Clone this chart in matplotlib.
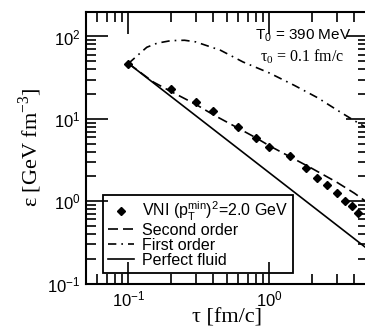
"""Energy density vs proper time: VNI against hydrodynamics."""

import matplotlib

matplotlib.use("Agg")
import matplotlib.pyplot as plt

# VNI points, (pT^min)^2 = 2.0 GeV
vni_tau = [0.1, 0.2, 0.3, 0.4, 0.6, 0.8, 1.0, 1.4, 1.82, 2.19, 2.58, 3.0, 3.44, 3.84, 4.28]
vni_eps = [46.7, 22.8, 16.0, 12.3, 8.0, 5.85, 4.55, 3.5, 2.5, 1.91, 1.59, 1.26, 1.0, 0.87, 0.71]

# second order viscous hydro (dashed)
second_tau = [0.1, 0.15, 0.2, 0.3, 0.4, 0.6, 0.8, 1.0, 1.5, 2.0, 3.0, 4.0, 5.0]
second_eps = [47.0, 28.0, 21.5, 15.0, 11.2, 7.7, 5.9, 4.7, 3.25, 2.5, 1.7, 1.25, 0.95]

# first order viscous hydro (dash-dot)
first_tau = [0.1, 0.12, 0.135, 0.16, 0.2, 0.25, 0.3, 0.45, 0.65, 1.0, 1.5, 2.2, 3.2, 4.0, 5.0]
first_eps = [47.0, 62.0, 74.0, 83.0, 89.0, 90.0, 86.0, 68.0, 49.0, 36.0, 25.5, 18.0, 12.0, 9.5, 7.6]

# ideal fluid (solid), straight on log-log
perfect_tau = [0.1, 5.0]
perfect_eps = [47.0, 0.26]

x_limits = (0.05, 5.0)
y_limits = (0.1, 200.0)

SANS = ["Liberation Sans", "DejaVu Sans"]
SERIF = ["Liberation Serif", "DejaVu Serif"]


def set_style() -> None:
    """Grace-like look: black lines, inward ticks everywhere."""
    plt.rcParams["font.family"] = SANS
    plt.rcParams["mathtext.fontset"] = "custom"
    plt.rcParams["mathtext.rm"] = "Liberation Sans"
    plt.rcParams["mathtext.it"] = "Liberation Sans:italic"
    plt.rcParams["axes.linewidth"] = 1.5


def main() -> None:
    set_style()
    fig = plt.figure(figsize=(3.65, 3.35), dpi=100)
    ax = fig.add_axes([86 / 365, 51.5 / 335, 282 / 365, 271.8 / 335])
    ax.set_xscale("log")
    ax.set_yscale("log")

    ax.plot(vni_tau, vni_eps, linestyle="none", marker="D", markersize=4.0,
            color="black", label=r"VNI (p$_\mathregular{T}^\mathregular{min}$)$^\mathregular{2}$=2.0 GeV")
    ax.plot(second_tau, second_eps, color="black", linewidth=1.2,
            linestyle=(0, (6, 3)), label="Second order")
    ax.plot(first_tau, first_eps, color="black", linewidth=1.2,
            linestyle=(0, (5, 3, 1, 3)), label="First order")
    ax.plot(perfect_tau, perfect_eps, color="black", linewidth=1.2, label="Perfect fluid")

    ax.set_xlim(*x_limits)
    ax.set_ylim(*y_limits)
    ax.tick_params(which="both", direction="in", top=True, right=True, width=1.2,
                   labelsize=12, pad=4)
    ax.tick_params(which="major", length=15.5)
    ax.tick_params(which="minor", length=7.5)

    ax.set_xlabel("τ [fm/c]", family=SERIF, fontsize=16, labelpad=0)
    ax.set_ylabel(r"ε [GeV fm$^\mathregular{-3}$]", family=SERIF, fontsize=16, labelpad=2)

    ax.text(0.6, 0.896, r"T$_\mathregular{0}$ = 390 MeV", transform=ax.transAxes,
            fontsize=11, va="baseline", ha="left")
    ax.text(0.617, 0.816, r"τ$_\mathregular{0}$ = 0.1 fm/c", transform=ax.transAxes,
            family=SERIF, fontsize=11.5, va="baseline", ha="left")

    leg = ax.legend(loc="lower left", bbox_to_anchor=(0.06, 0.04), borderaxespad=0,
                    fontsize=11.5, handlelength=1.63, handletextpad=0.53,
                    borderpad=0.3, labelspacing=0.0, fancybox=False,
                    framealpha=1, edgecolor="black")
    leg.get_frame().set_facecolor("none")
    leg.get_frame().set_linewidth(1.3)

    fig.savefig("out.png", dpi=100)


if __name__ == "__main__":
    main()
